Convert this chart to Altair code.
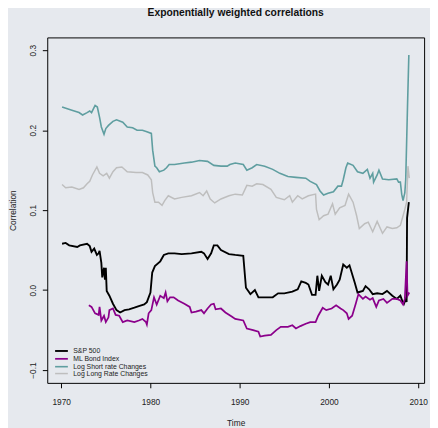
import altair as alt
import pandas as pd

series_names = ["S&P 500", "ML Bond Index", "Log Short rate Changes", "Log Long Rate Changes"]
series_colors = ["#000000", "#8B008B", "#5F9EA0", "#BEBEBE"]
series_widths = [1.9, 1.5, 1.5, 1.5]

years_sp = [1970.1, 1970.5, 1970.9, 1971.8, 1972.1, 1972.9, 1973.2, 1973.4, 1973.7, 1974.0,
            1974.2, 1974.3, 1974.5, 1974.6, 1974.8, 1974.9, 1975.0, 1975.1, 1975.4, 1975.8,
            1976.2, 1976.6, 1977.1, 1977.6, 1978.2, 1978.7, 1979.3, 1979.6, 1980.0, 1980.2,
            1980.5, 1981.1, 1981.5, 1982.0, 1982.7, 1983.5, 1984.6, 1985.7, 1986.0, 1986.4,
            1986.8, 1987.1, 1987.5, 1987.9, 1988.8, 1989.5, 1990.4, 1990.7, 1991.2, 1991.7,
            1992.1, 1992.8, 1993.7, 1994.3, 1995.0, 1995.9, 1996.5, 1996.9, 1997.4, 1997.7,
            1998.1, 1998.5, 1998.7, 1998.9, 1999.2, 1999.6, 1999.9, 2000.2, 2000.5, 2000.9,
            2001.2, 2001.6, 2002.0, 2002.3, 2002.9, 2003.2, 2003.8, 2004.1, 2004.5, 2004.9,
            2005.4, 2006.0, 2006.5, 2007.1, 2007.6, 2008.0, 2008.2, 2008.4, 2008.6, 2008.7,
            2008.75, 2008.95]
vals_sp = [0.058, 0.059, 0.056, 0.054, 0.056, 0.058, 0.055, 0.048, 0.052, 0.044,
           0.046, 0.049, 0.034, 0.016, 0.028, 0.013, 0.028, -0.001, -0.007, -0.017,
           -0.025, -0.028, -0.025, -0.024, -0.022, -0.020, -0.018, -0.015, -0.003, 0.022,
           0.030, 0.036, 0.044, 0.046, 0.046, 0.045, 0.046, 0.048, 0.046, 0.039,
           0.046, 0.056, 0.056, 0.050, 0.045, 0.044, 0.043, 0.003, -0.005, 0.000,
           -0.009, -0.009, -0.009, -0.004, -0.004, -0.002, 0.001, 0.011, 0.009, 0.007,
           -0.006, -0.006, 0.018, -0.001, 0.018, 0.010, 0.007, 0.018, 0.001, 0.007,
           0.013, 0.032, 0.028, 0.031, 0.009, -0.003, -0.001, 0.005, 0.001, -0.005,
           -0.004, -0.005, -0.001, -0.007, -0.011, -0.007, -0.013, -0.017, -0.011, -0.015,
           0.090, 0.110]

years_ml = [1973.1, 1973.4, 1973.8, 1974.2, 1974.3, 1974.5, 1974.8, 1975.0, 1975.3, 1975.4,
            1975.8, 1976.1, 1976.5, 1976.9, 1977.4, 1978.2, 1978.7, 1979.1, 1979.5, 1979.6,
            1979.8, 1980.1, 1980.4, 1980.7, 1981.1, 1981.5, 1981.7, 1981.9, 1982.2, 1982.6,
            1983.1, 1983.8, 1984.4, 1984.6, 1985.1, 1985.7, 1986.0, 1986.4, 1986.8, 1987.1,
            1987.3, 1987.9, 1988.4, 1989.1, 1989.5, 1990.4, 1990.8, 1991.5, 1992.1, 1992.3,
            1992.8, 1993.5, 1994.1, 1994.6, 1995.4, 1995.9, 1996.3, 1996.8, 1997.4, 1997.9,
            1998.5, 1998.8, 1999.3, 1999.7, 2000.3, 2000.8, 2001.3, 2001.6, 2002.0, 2002.2,
            2002.6, 2003.0, 2003.3, 2003.8, 2004.1, 2004.6, 2004.9, 2005.3, 2005.6, 2006.1,
            2006.5, 2007.1, 2007.6, 2008.0, 2008.3, 2008.5, 2008.7, 2008.8, 2009.0]
vals_ml = [-0.019, -0.021, -0.029, -0.031, -0.021, -0.038, -0.032, -0.040, -0.034, -0.025,
           -0.023, -0.031, -0.032, -0.040, -0.038, -0.040, -0.038, -0.036, -0.040, -0.043,
           -0.029, -0.025, -0.009, -0.018, -0.007, -0.010, -0.003, -0.014, -0.009, -0.009,
           -0.013, -0.017, -0.021, -0.028, -0.027, -0.025, -0.029, -0.023, -0.018, -0.017,
           -0.024, -0.023, -0.028, -0.033, -0.036, -0.038, -0.048, -0.050, -0.052, -0.058,
           -0.057, -0.056, -0.050, -0.046, -0.046, -0.044, -0.048, -0.045, -0.042, -0.040,
           -0.040, -0.032, -0.022, -0.025, -0.023, -0.019, -0.023, -0.025, -0.029, -0.036,
           -0.032, -0.017, -0.005, -0.011, -0.008, -0.012, -0.010, -0.021, -0.013, -0.011,
           -0.016, -0.011, -0.011, -0.013, -0.018, -0.011, 0.036, -0.007, -0.003]

years_sr = [1970.1, 1971.2, 1972.0, 1972.4, 1972.9, 1973.2, 1973.4, 1973.8, 1974.05, 1974.3,
            1974.5, 1974.8, 1975.0, 1975.3, 1975.8, 1976.2, 1976.9, 1977.4, 1978.0, 1978.5,
            1979.1, 1979.6, 1980.1, 1980.25, 1980.5, 1980.7, 1981.0, 1981.5, 1981.8, 1982.1,
            1982.7, 1983.8, 1984.6, 1985.5, 1986.4, 1987.1, 1987.9, 1988.6, 1988.9, 1989.5,
            1990.4, 1990.8, 1991.4, 1991.9, 1992.8, 1993.7, 1994.5, 1995.4, 1996.3, 1997.4,
            1997.9, 1998.6, 1999.0, 1999.4, 1999.9, 2000.5, 2001.0, 2001.4, 2001.6, 2001.9,
            2002.1, 2002.7, 2003.2, 2003.8, 2004.3, 2004.6, 2004.9, 2005.0, 2005.4, 2005.6,
            2006.0, 2006.7, 2007.6, 2007.8, 2008.0, 2008.15, 2008.3, 2008.5, 2008.6, 2008.8,
            2008.95]
vals_sr = [0.229, 0.225, 0.222, 0.219, 0.222, 0.224, 0.222, 0.231, 0.229, 0.216,
           0.204, 0.195, 0.202, 0.206, 0.211, 0.213, 0.210, 0.204, 0.203, 0.200,
           0.200, 0.198, 0.196, 0.175, 0.155, 0.153, 0.148, 0.150, 0.153, 0.157,
           0.157, 0.159, 0.160, 0.162, 0.161, 0.156, 0.155, 0.155, 0.157, 0.159,
           0.157, 0.150, 0.153, 0.157, 0.155, 0.151, 0.146, 0.142, 0.141, 0.140,
           0.136, 0.132, 0.124, 0.119, 0.121, 0.123, 0.130, 0.130, 0.138, 0.153,
           0.159, 0.156, 0.148, 0.146, 0.151, 0.140, 0.146, 0.135, 0.144, 0.150,
           0.139, 0.138, 0.139, 0.135, 0.135, 0.120, 0.112, 0.122, 0.138, 0.230,
           0.294]

years_lr = [1970.1, 1970.5, 1971.2, 1972.0, 1972.5, 1972.9, 1973.2, 1973.5, 1974.0, 1974.3,
            1974.7, 1975.1, 1975.4, 1975.8, 1976.2, 1976.8, 1977.4, 1978.4, 1979.1, 1979.7,
            1980.1, 1980.25, 1980.5, 1980.9, 1981.3, 1981.6, 1982.0, 1982.7, 1983.5, 1984.6,
            1985.5, 1985.9, 1986.3, 1986.7, 1987.2, 1987.9, 1988.8, 1989.5, 1990.3, 1990.8,
            1991.4, 1991.9, 1992.6, 1993.5, 1994.1, 1995.0, 1995.6, 1995.9, 1996.5, 1997.0,
            1997.7, 1998.5, 1998.6, 1998.9, 1999.4, 1999.9, 2000.4, 2000.7, 2001.2, 2001.8,
            2002.2, 2002.7, 2003.1, 2003.4, 2004.0, 2004.4, 2004.9, 2005.4, 2006.0, 2006.5,
            2007.1, 2007.6, 2008.0, 2008.2, 2008.5, 2008.7, 2008.85, 2009.0]
vals_lr = [0.132, 0.128, 0.129, 0.126, 0.128, 0.133, 0.136, 0.144, 0.154, 0.146,
           0.143, 0.146, 0.140, 0.148, 0.153, 0.154, 0.148, 0.147, 0.147, 0.144,
           0.138, 0.122, 0.110, 0.110, 0.106, 0.112, 0.118, 0.114, 0.116, 0.118,
           0.122, 0.118, 0.124, 0.114, 0.109, 0.114, 0.118, 0.120, 0.119, 0.131,
           0.130, 0.133, 0.132, 0.126, 0.116, 0.113, 0.118, 0.110, 0.118, 0.114,
           0.118, 0.120, 0.101, 0.088, 0.093, 0.095, 0.108, 0.095, 0.103, 0.106,
           0.120, 0.110, 0.093, 0.077, 0.083, 0.085, 0.073, 0.086, 0.071, 0.079,
           0.077, 0.078, 0.081, 0.089, 0.101, 0.110, 0.155, 0.140]

x_ticks = [1970, 1980, 1990, 2000, 2010]
y_ticks = [-0.1, 0.0, 0.1, 0.2, 0.3]

rows = []
for i, (name, ys, vs) in enumerate(zip(series_names,
                                        [years_sp, years_ml, years_sr, years_lr],
                                        [vals_sp, vals_ml, vals_sr, vals_lr])):
    for yr, v in zip(ys, vs):
        rows.append({"series": name, "year": yr, "corr": v, "k": i})
df = pd.DataFrame(rows)

FONT = "Liberation Sans"
BG = "#E6E9EE"

chart = alt.Chart(df).mark_line(clip=True).encode(
    x=alt.X("year:Q",
            scale=alt.Scale(domain=[1968.44, 2010.66], nice=False, zero=False),
            axis=alt.Axis(values=x_ticks, format="d", title="Time", grid=False, domain=False,
                          tickColor="black", tickSize=5, labelPadding=10.5, titlePadding=12,
                          labelFontSize=8.5, titleFontSize=8.5, titleFontWeight="normal",
                          labelColor="#222222", titleColor="#222222", labelFont=FONT, titleFont=FONT)),
    y=alt.Y("corr:Q",
            scale=alt.Scale(domain=[-0.116, 0.316], nice=False, zero=False),
            axis=alt.Axis(values=y_ticks, format=".1f", title="Correlation", grid=False, domain=False,
                          tickColor="black", tickSize=5, labelAngle=-90, labelAlign="center",
                          labelBaseline="bottom", labelPadding=5, titlePadding=11.5,
                          labelFontSize=8.5, titleFontSize=8.5, titleFontWeight="normal",
                          labelColor="#222222", titleColor="#222222", labelFont=FONT, titleFont=FONT)),
    color=alt.Color("series:N",
                    scale=alt.Scale(domain=series_names, range=series_colors),
                    legend=alt.Legend(title=None, orient="none", legendX=11, legendY=316,
                                      symbolType="M-3.25,0H3.25", symbolSize=16,
                                      symbolStrokeWidth=2.5, labelFontSize=7, labelFont=FONT,
                                      labelColor="#222222", labelOffset=8.5, rowPadding=-3.6,
                                      padding=0, labelLimit=200)),
    strokeWidth=alt.StrokeWidth("series:N",
                                scale=alt.Scale(domain=series_names, range=series_widths),
                                legend=None),
    order=alt.Order("k:Q"),
).properties(
    width=384,
    height=352,
    title=alt.TitleParams(text="Exponentially weighted correlations", fontSize=10.5,
                          fontWeight="bold", font=FONT, color="#111111", anchor="middle",
                          frame="group", offset=19),
    background=BG,
    padding={"left": 40, "top": 26, "right": 6, "bottom": 42},
    autosize=alt.AutoSizeParams(type="none"),
).configure_view(stroke="black", strokeWidth=1, fill=BG)

chart.save("out.html", embed_options={"renderer": "svg", "actions": False})
